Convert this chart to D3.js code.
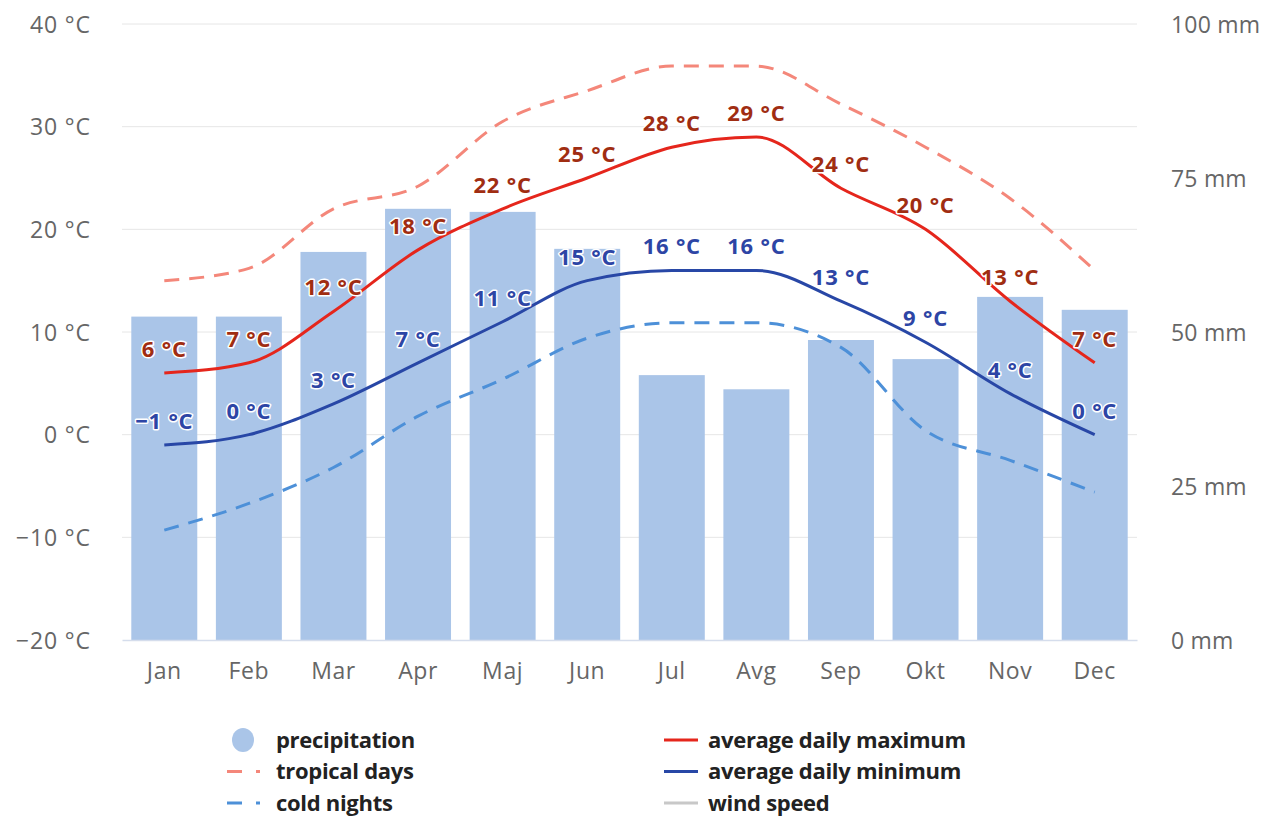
<!DOCTYPE html>
<html>
<head>
<meta charset="utf-8">
<script src="https://cdn.jsdelivr.net/npm/d3@7"></script>
<style>
  html, body { margin: 0; padding: 0; background: #fff; }
  svg { display: block; font-family: "Open Sans", "DejaVu Sans", sans-serif; }
</style>
</head>
<body>
<svg id="chart" width="1267" height="816"></svg>
<script>
// Monthly climate data
const months = ["Jan", "Feb", "Mar", "Apr", "Maj", "Jun", "Jul", "Avg", "Sep", "Okt", "Nov", "Dec"];
const precipitation = [52.5, 52.5, 63, 70, 69.5, 63.5, 43, 40.7, 48.7, 45.6, 55.7, 53.6]; // mm
const avgMax = [6, 7, 12, 18, 22, 25, 28, 29, 24, 20, 13, 7];        // °C
const avgMin = [-1, 0, 3, 7, 11, 15, 16, 16, 13, 9, 4, 0];           // °C
const tropicalDays = [15, 16.2, 22, 24.2, 30.5, 33.5, 35.9, 35.9, 32.2, 28, 23, 16];
const coldNights = [-9.3, -6.7, -3.2, 1.8, 5.4, 9.4, 10.9, 10.9, 8.5, 0.4, -2.5, -5.6];
const tempTicks = [-20, -10, 0, 10, 20, 30, 40];
const precipTicks = [0, 25, 50, 75, 100];

const legendLeft = [
  { name: "precipitation", type: "bar", color: "#aac5e8" },
  { name: "tropical days", type: "dash", color: "#f4877a" },
  { name: "cold nights", type: "dash", color: "#4d90d8" }
];
const legendRight = [
  { name: "average daily maximum", type: "line", color: "#e5261c" },
  { name: "average daily minimum", type: "line", color: "#2847a6" },
  { name: "wind speed", type: "line", color: "#c8c8c8" }
];

const svg = d3.select("#chart");
const plot = { left: 122, right: 1137, top: 24, bottom: 640 };

const x = d3.scaleBand().domain(months)
  .range([plot.left, plot.right]).paddingInner(0.22).paddingOuter(0.11);
const cx = m => x(m) + x.bandwidth() / 2;
const yT = d3.scaleLinear().domain([-20, 40]).range([plot.bottom, plot.top]);
const yP = d3.scaleLinear().domain([0, 100]).range([plot.bottom, plot.top]);

const fmtC = d => (d < 0 ? "\u2212" + Math.abs(d) : d) + " \u00B0C";

// grid lines
svg.append("g")
  .selectAll("line").data(tempTicks.filter(t => t > -20)).join("line")
  .attr("x1", plot.left).attr("x2", plot.right)
  .attr("y1", d => yT(d)).attr("y2", d => yT(d))
  .attr("stroke", "#e6e6e6").attr("stroke-width", 1);

// left axis
const axL = svg.append("g").attr("transform", `translate(${plot.left - 31},0)`)
  .call(d3.axisLeft(yT).tickValues(tempTicks).tickFormat(fmtC).tickSize(0).tickPadding(0));
axL.select(".domain").remove();
axL.selectAll("text").attr("font-size", 23).attr("fill", "#666").attr("dy", "0.35em")
  .attr("font-family", "Open Sans").attr("letter-spacing", "0.9px");

// right axis
const axR = svg.append("g").attr("transform", `translate(${plot.right + 34},0)`)
  .call(d3.axisRight(yP).tickValues(precipTicks).tickFormat(d => d + " mm").tickSize(0).tickPadding(0));
axR.select(".domain").remove();
axR.selectAll("text").attr("font-size", 23).attr("fill", "#666").attr("dy", "0.35em")
  .attr("font-family", "Open Sans").attr("letter-spacing", "0.2px");

// precipitation bars
svg.append("g").selectAll("rect").data(months).join("rect")
  .attr("x", m => x(m)).attr("width", x.bandwidth())
  .attr("y", (m, i) => yP(precipitation[i]))
  .attr("height", (m, i) => yP(0) - yP(precipitation[i]))
  .attr("fill", "#aac5e8");

// bottom axis
const axB = svg.append("g").attr("transform", `translate(0,${plot.bottom})`)
  .call(d3.axisBottom(x).tickSize(0).tickPadding(23));
axB.select(".domain").attr("stroke", "#d5ddec").attr("stroke-width", 1.5);
axB.selectAll("text").attr("font-size", 23).attr("fill", "#666")
  .attr("font-family", "Open Sans").attr("letter-spacing", "0.6px");

// lines
const line = d3.line().x((d, i) => cx(months[i])).y(d => yT(d)).curve(d3.curveMonotoneX);

svg.append("path").datum(tropicalDays).attr("d", line)
  .attr("fill", "none").attr("stroke", "#f4877a").attr("stroke-width", 3)
  .attr("stroke-dasharray", "15,10");
svg.append("path").datum(coldNights).attr("d", line)
  .attr("fill", "none").attr("stroke", "#4d90d8").attr("stroke-width", 3)
  .attr("stroke-dasharray", "15,10");
svg.append("path").datum(avgMax).attr("d", line)
  .attr("fill", "none").attr("stroke", "#e5261c").attr("stroke-width", 3);
svg.append("path").datum(avgMin).attr("d", line)
  .attr("fill", "none").attr("stroke", "#2847a6").attr("stroke-width", 3);

// data labels
function labels(values, color) {
  svg.append("g").selectAll("text").data(values).join("text")
    .attr("x", (d, i) => cx(months[i]))
    .attr("y", d => yT(d) - 16)
    .attr("text-anchor", "middle")
    .attr("font-size", 22).attr("font-weight", 700)
    .attr("font-family", "Open Sans").attr("letter-spacing", "0.8px")
    .attr("fill", color)
    .attr("stroke", "#fff").attr("stroke-width", 3).attr("stroke-linejoin", "round")
    .attr("paint-order", "stroke")
    .text(fmtC);
}
labels(avgMax, "#a02d12");
labels(avgMin, "#2d45a5");

// legend
function legendColumn(items, iconX, textX) {
  const g = svg.append("g");
  items.forEach((it, i) => {
    const y = 740 + i * 31.5;
    if (it.type === "bar") {
      g.append("ellipse").attr("cx", iconX + 16).attr("cy", y).attr("rx", 11).attr("ry", 12)
        .attr("fill", it.color);
    } else if (it.type === "dash") {
      g.append("line").attr("x1", iconX).attr("x2", iconX + 34).attr("y1", y).attr("y2", y)
        .attr("stroke", it.color).attr("stroke-width", 3).attr("stroke-dasharray", "15,14,4,20");
    } else {
      g.append("line").attr("x1", iconX).attr("x2", iconX + 34).attr("y1", y).attr("y2", y)
        .attr("stroke", it.color).attr("stroke-width", 3);
    }
    g.append("text").attr("x", textX).attr("y", y).attr("dy", "0.35em")
      .attr("font-size", 22).attr("font-weight", 700).attr("font-family", "Open Sans")
      .attr("letter-spacing", "-0.3px")
      .attr("fill", "#222").text(it.name);
  });
}
legendColumn(legendLeft, 227, 276);
legendColumn(legendRight, 664, 708);
</script>
</body>
</html>
